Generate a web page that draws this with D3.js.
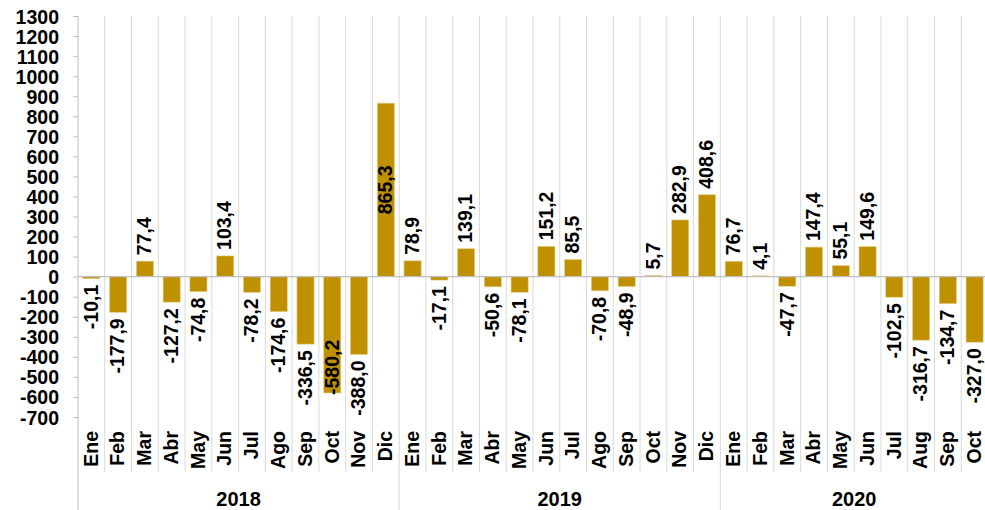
<!DOCTYPE html>
<html>
<head>
<meta charset="utf-8">
<script src="https://cdn.jsdelivr.net/npm/d3@7"></script>
<style>
  html, body { margin: 0; padding: 0; background: #fff; }
  svg { display: block; font-family: "Liberation Sans", Arial, sans-serif; font-weight: bold; }
</style>
</head>
<body>
<svg id="chart" width="985" height="510"></svg>
<script>
// ---- data ----
const years = ["2018", "2019", "2020"];
const months2018 = ["Ene","Feb","Mar","Abr","May","Jun","Jul","Ago","Sep","Oct","Nov","Dic"];
const months2019 = ["Ene","Feb","Mar","Abr","May","Jun","Jul","Ago","Sep","Oct","Nov","Dic"];
const months2020 = ["Ene","Feb","Mar","Abr","May","Jun","Jul","Aug","Sep","Oct"];
const values2018 = [-10.1, -177.9, 77.4, -127.2, -74.8, 103.4, -78.2, -174.6, -336.5, -580.2, -388.0, 865.3];
const values2019 = [78.9, -17.1, 139.1, -50.6, -78.1, 151.2, 85.5, -70.8, -48.9, 5.7, 282.9, 408.6];
const values2020 = [76.7, 4.1, -47.7, 147.4, 55.1, 149.6, -102.5, -316.7, -134.7, -327.0];
const yTicks = [-700,-600,-500,-400,-300,-200,-100,0,100,200,300,400,500,600,700,800,900,1000,1100,1200,1300];

// build flat table
const monthsByYear = [months2018, months2019, months2020];
const valuesByYear = [values2018, values2019, values2020];
const rows = [];
years.forEach((yr, yi) => {
  monthsByYear[yi].forEach((m, mi) => {
    rows.push({ key: yr + "-" + m, year: yr, month: m, value: valuesByYear[yi][mi] });
  });
});

const svg = d3.select("#chart");
const plotL = 78, plotR = 988, plotT = 16, plotB = 417;

const x = d3.scaleBand().domain(rows.map(d => d.key)).range([plotL, plotR]).padding(0);
const y = d3.scaleLinear().domain([-700, 1300]).range([plotB, plotT]);
const bw = x.bandwidth();
const barW = bw * 0.64;

const loc = d3.formatLocale({ decimal: ",", thousands: ".", grouping: [3], currency: ["", ""], minus: "-" });
const fmt = loc.format(".1f");

// vertical gridlines / category separators
const seps = d3.range(1, rows.length);
svg.append("g").selectAll("line").data(seps).join("line")
  .attr("x1", i => plotL + i * bw).attr("x2", i => plotL + i * bw)
  .attr("y1", plotT).attr("y2", i => (i % 12 === 0) ? 510 : 472)
  .attr("stroke", "#D9D9D9").attr("stroke-width", 1);

// left axis line
svg.append("line").attr("x1", plotL).attr("x2", plotL).attr("y1", plotT).attr("y2", 510)
  .attr("stroke", "#BFBFBF").attr("stroke-width", 1);

// y axis ticks + labels
const yAxis = d3.axisLeft(y).tickValues(yTicks).tickSize(5).tickPadding(14).tickFormat(d => String(d));
const gy = svg.append("g").attr("transform", `translate(${plotL},0)`).call(yAxis);
gy.select(".domain").remove();
gy.selectAll(".tick line").attr("stroke", "#BFBFBF");
gy.selectAll(".tick text").attr("fill", "#000").style("font-size", "19.5px").style("font-weight", "bold")
  .style("font-family", "'Liberation Sans', Arial, sans-serif").attr("dy", "0.36em");

// bars
svg.append("g").selectAll("rect").data(rows).join("rect")
  .attr("x", d => x(d.key) + (bw - barW) / 2)
  .attr("width", barW)
  .attr("y", d => y(Math.max(0, d.value)))
  .attr("height", d => Math.abs(y(d.value) - y(0)))
  .attr("fill", "#BF9000")
  .attr("stroke", "#E8D08A").attr("stroke-width", 0.6);

// zero line
svg.append("line").attr("x1", plotL).attr("x2", plotR).attr("y1", y(0)).attr("y2", y(0))
  .attr("stroke", "#BFBFBF").attr("stroke-width", 1.2);

// data labels (rotated)
const gap = 6;
svg.append("g").selectAll("text").data(rows).join("text")
  .each(function(d) {
    const cx = x(d.key) + bw / 2;
    let py, anchor;
    if (d.value > 800) {            // very tall bar: label sits inside, centred
      py = (y(d.value) + y(0)) / 2; anchor = "middle";
    } else if (d.value < -500) {    // very deep bar: label inside, at the bar end
      py = y(d.value) + 2; anchor = "start";
    } else if (d.value >= 0) {
      py = y(d.value) - gap; anchor = "start";
    } else {
      py = y(d.value) + gap; anchor = "end";
    }
    d3.select(this)
      .attr("transform", `translate(${cx},${py}) rotate(-90)`)
      .attr("text-anchor", anchor)
      .attr("dy", "0.32em");
  })
  .style("font-size", "19.5px")
  .attr("fill", "#000")
  .text(d => fmt(d.value));

// month labels
svg.append("g").selectAll("text").data(rows).join("text")
  .attr("transform", d => `translate(${x(d.key) + bw / 2},431) rotate(-90)`)
  .attr("text-anchor", "end").attr("dy", "0.32em")
  .style("font-size", "19.5px").attr("fill", "#000")
  .text(d => d.month);

// year labels
svg.append("g").selectAll("text").data(years).join("text")
  .attr("x", (yr) => {
    const ks = rows.filter(r => r.year === yr).map(r => r.key);
    return (x(ks[0]) + x(ks[ks.length - 1]) + bw) / 2;
  })
  .attr("y", 506)
  .attr("text-anchor", "middle")
  .style("font-size", "20px").attr("fill", "#000")
  .text(d => d);
</script>
</body>
</html>
